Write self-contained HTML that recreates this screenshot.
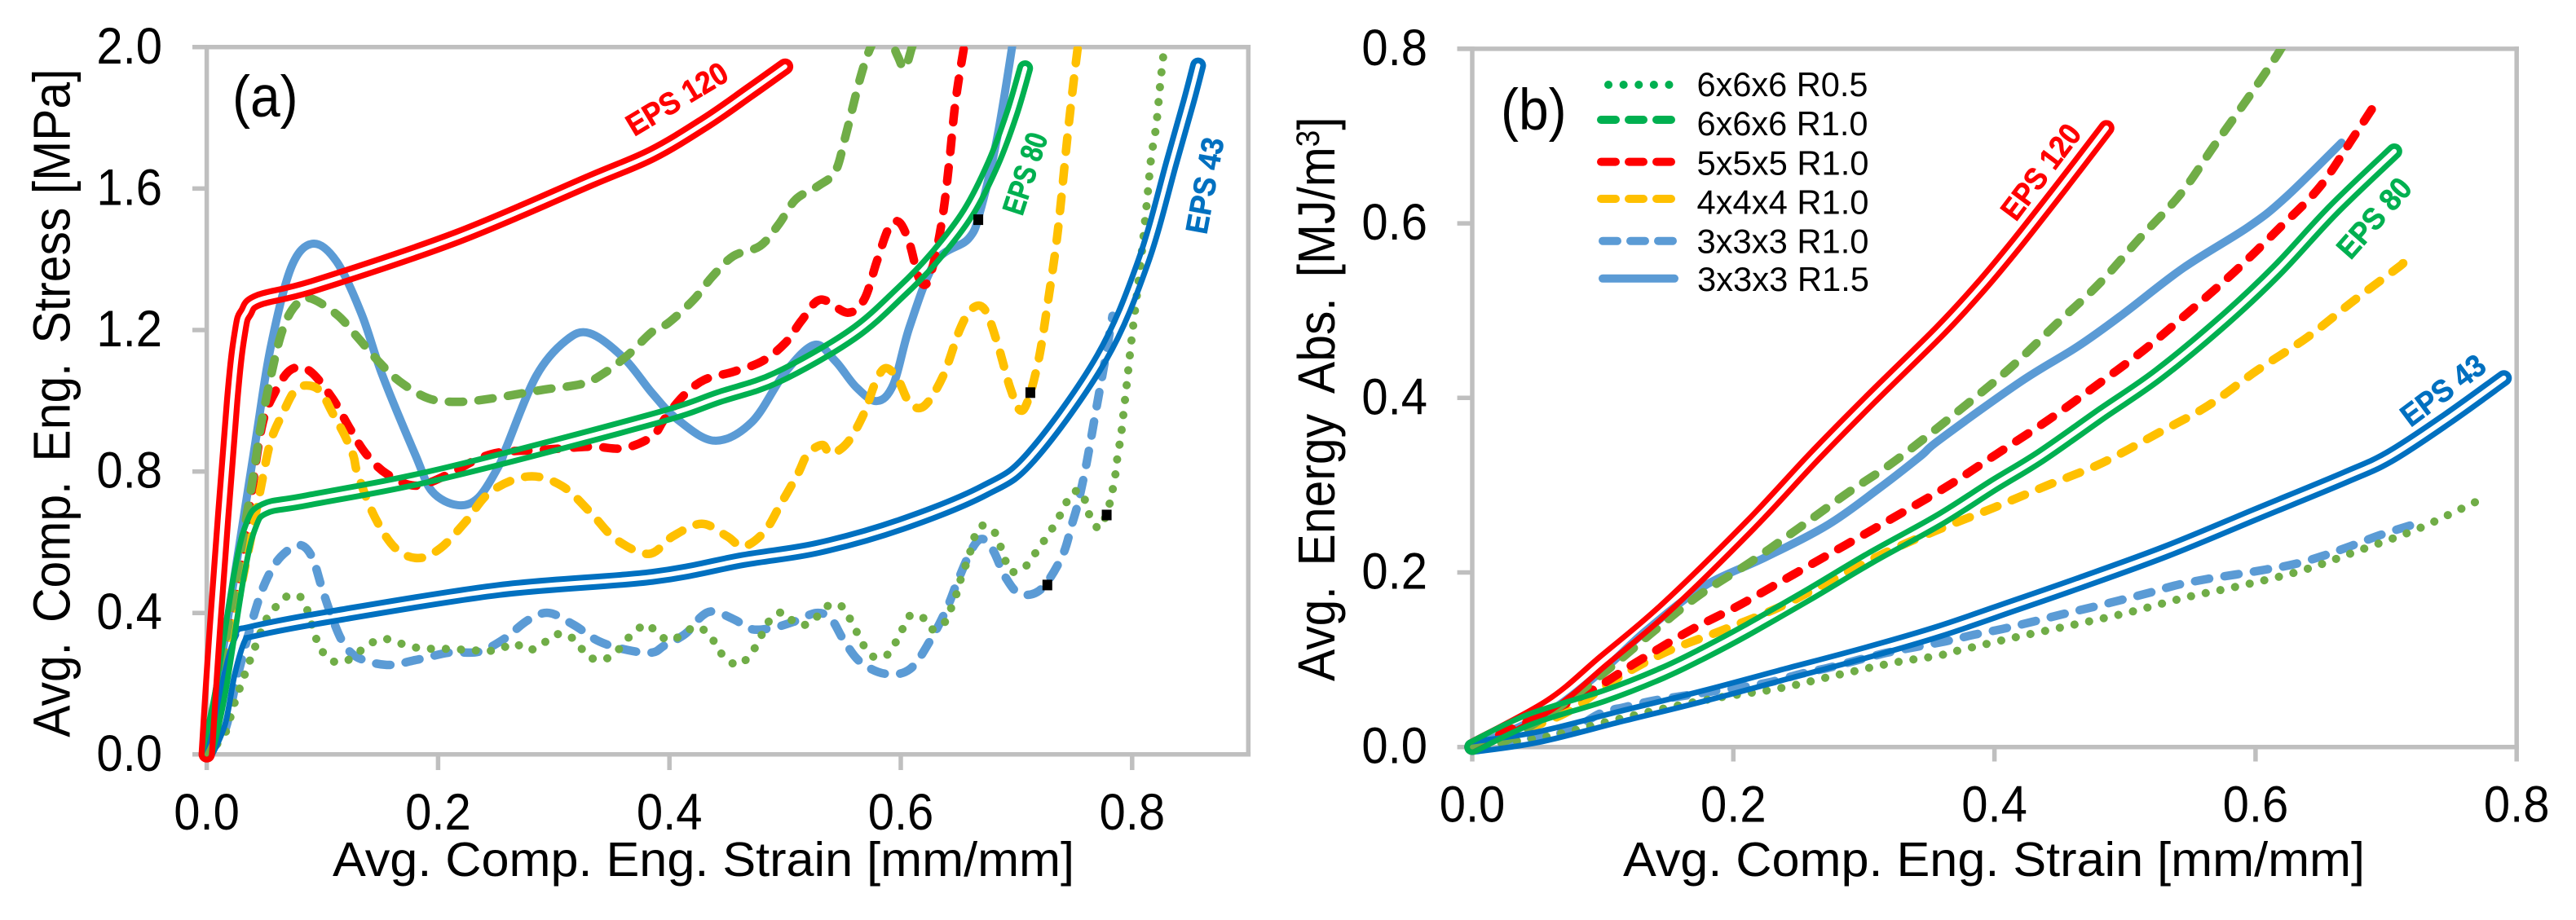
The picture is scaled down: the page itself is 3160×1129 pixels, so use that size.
<!DOCTYPE html>
<html lang="en">
<head>
<meta charset="utf-8">
<title>Compression stress and energy absorption charts</title>
<style>
html,body{margin:0;padding:0;background:#fff;width:3160px;height:1129px;overflow:hidden}
svg{display:block}
text{font-family:"Liberation Sans",Arial,sans-serif;fill:#000}
</style>
</head>
<body>
<svg id="fig" xmlns="http://www.w3.org/2000/svg" width="3160" height="1129" viewBox="0 0 3160 1129">
  <rect width="3160" height="1129" fill="#fff"/>
  <defs id="defs">
    <clipPath id="clipA"><rect x="0" y="57" width="1531" height="1072"/></clipPath>
    <clipPath id="clipB"><rect x="1700" y="60" width="1384" height="1069"/></clipPath>
  </defs>
  <g id="panelA">
    <g id="axesA"></g>
    <g id="seriesA" clip-path="url(#clipA)"></g>
    <text transform="translate(85.7,904.7) rotate(-90) scale(0.92,1)" font-size="64">Avg. <tspan dx="8.3">Comp. </tspan><tspan dx="8.3">Eng. </tspan><tspan dx="8.3">Stress [MPa]</tspan></text>
    <text x="408" y="1075" font-size="59" textLength="910" lengthAdjust="spacingAndGlyphs">Avg. Comp. Eng. Strain [mm/mm]</text>
    <text transform="translate(285,143) scale(1,1.08)" font-size="66">(a)</text>
    <text transform="translate(778,168) rotate(-31)" font-size="38" font-weight="bold" textLength="138" lengthAdjust="spacingAndGlyphs" stroke="#ff0000" stroke-width="0.7" style="fill:#ff0000">EPS 120</text>
    <text transform="translate(1254,266) rotate(-72)" font-size="38" font-weight="bold" textLength="103" lengthAdjust="spacingAndGlyphs" stroke="#00b050" stroke-width="0.7" style="fill:#00b050">EPS 80</text>
    <text transform="translate(1480,288.6) rotate(-79.6)" font-size="38" font-weight="bold" textLength="119" lengthAdjust="spacingAndGlyphs" stroke="#0070c0" stroke-width="0.7" style="fill:#0070c0">EPS 43</text>
  </g>
  <g id="panelB">
    <g id="axesB"></g>
    <g id="seriesB" clip-path="url(#clipB)"></g>
    <text transform="translate(1637,836) rotate(-90) scale(0.92,1)" font-size="64">Avg. <tspan dx="9.2">Energy </tspan><tspan dx="9.2">Abs. </tspan><tspan dx="9.2">[MJ/m</tspan><tspan font-size="40" dy="-19">3</tspan><tspan dy="19">]</tspan></text>
    <text x="1991" y="1075" font-size="59" textLength="910" lengthAdjust="spacingAndGlyphs">Avg. Comp. Eng. Strain [mm/mm]</text>
    <text transform="translate(1841,159) scale(1,1.08)" font-size="66">(b)</text>
    <text transform="translate(2473,273) rotate(-53)" font-size="38" font-weight="bold" textLength="136" lengthAdjust="spacingAndGlyphs" stroke="#ff0000" stroke-width="0.7" style="fill:#ff0000">EPS 120</text>
    <text transform="translate(2883.5,320) rotate(-48.6)" font-size="38" font-weight="bold" textLength="117" lengthAdjust="spacingAndGlyphs" stroke="#00b050" stroke-width="0.7" style="fill:#00b050">EPS 80</text>
    <text transform="translate(2957,525) rotate(-36.8)" font-size="38" font-weight="bold" textLength="119" lengthAdjust="spacingAndGlyphs" stroke="#0070c0" stroke-width="0.7" style="fill:#0070c0">EPS 43</text>
    <g>
      <g>
        <line x1="1973" y1="104" x2="2048" y2="104" stroke="#00b050" stroke-width="10" stroke-linecap="round" stroke-dasharray="0.1 18.5"/>
        <text x="2081.5" y="118" font-size="42" textLength="210" lengthAdjust="spacingAndGlyphs">6x6x6 R0.5</text>
      </g>
      <g>
        <line x1="1964" y1="147" x2="2050" y2="147" stroke="#00b050" stroke-width="10" stroke-linecap="round" stroke-dasharray="18 16"/>
        <text x="2081.5" y="166" font-size="42" textLength="210" lengthAdjust="spacingAndGlyphs">6x6x6 R1.0</text>
      </g>
      <g>
        <line x1="1964" y1="198.6" x2="2051" y2="198.6" stroke="#ff0000" stroke-width="10" stroke-linecap="round" stroke-dasharray="18 16"/>
        <text x="2081.5" y="214.6" font-size="42" textLength="211" lengthAdjust="spacingAndGlyphs">5x5x5 R1.0</text>
      </g>
      <g>
        <line x1="1964" y1="244" x2="2051" y2="244" stroke="#ffc000" stroke-width="10" stroke-linecap="round" stroke-dasharray="18 16"/>
        <text x="2081.5" y="262.5" font-size="42" textLength="211" lengthAdjust="spacingAndGlyphs">4x4x4 R1.0</text>
      </g>
      <g>
        <line x1="1966" y1="295.7" x2="2053" y2="295.7" stroke="#5b9bd5" stroke-width="10" stroke-linecap="round" stroke-dasharray="18 16"/>
        <text x="2081.5" y="310.7" font-size="42" textLength="211" lengthAdjust="spacingAndGlyphs">3x3x3 R1.0</text>
      </g>
      <g>
        <line x1="1966" y1="341.8" x2="2054" y2="341.8" stroke="#5b9bd5" stroke-width="10" stroke-linecap="round"/>
        <text x="2082" y="357" font-size="42" textLength="211" lengthAdjust="spacingAndGlyphs">3x3x3 R1.5</text>
      </g>
    </g>
  </g>
</svg>
<script>
// ---------- tick values and labels ----------
const strainTicksA = [0, 0.2, 0.4, 0.6, 0.8];
const strainTickLabelsA = ["0.0", "0.2", "0.4", "0.6", "0.8"];
const stressTicks = [0, 0.4, 0.8, 1.2, 1.6, 2.0];
const stressTickLabels = ["0.0", "0.4", "0.8", "1.2", "1.6", "2.0"];
const strainTicksB = [0, 0.2, 0.4, 0.6, 0.8];
const strainTickLabelsB = ["0.0", "0.2", "0.4", "0.6", "0.8"];
const energyTicks = [0, 0.2, 0.4, 0.6, 0.8];
const energyTickLabels = ["0.0", "0.2", "0.4", "0.6", "0.8"];

// ---------- panel (a): stress vs strain ----------
const aEps120X = [0, 0.008, 0.022, 0.029, 0.034, 0.045, 0.0945, 0.2167, 0.332, 0.385, 0.4317, 0.4678, 0.5];
const aEps120Y = [0, 0.4, 1.0, 1.2, 1.25, 1.285, 1.327, 1.463, 1.623, 1.697, 1.788, 1.87, 1.945];

const aEps80X = [0, 0.0117, 0.028, 0.038, 0.05, 0.0874, 0.2024, 0.385, 0.4426, 0.493, 0.5578, 0.6008, 0.6298, 0.6583, 0.68, 0.696, 0.7075];
const aEps80Y = [0, 0.175, 0.509, 0.645, 0.695, 0.719, 0.793, 0.948, 1.01, 1.066, 1.187, 1.31, 1.409, 1.532, 1.672, 1.812, 1.94];

const aEps43X = [0, 0.0117, 0.0198, 0.0292, 0.0383, 0.1088, 0.2527, 0.385, 0.464, 0.5287, 0.6008, 0.6726, 0.713, 0.7735, 0.8095, 0.8345, 0.8488, 0.857];
const aEps43Y = [0, 0.09, 0.228, 0.329, 0.347, 0.391, 0.465, 0.502, 0.55, 0.584, 0.651, 0.747, 0.843, 1.121, 1.393, 1.68, 1.845, 1.948];

const a3x3R15X = [0, 0.0405, 0.055, 0.0729, 0.0917, 0.1124, 0.134, 0.152, 0.1808, 0.195, 0.2167, 0.2348, 0.2527, 0.2598, 0.285, 0.3104, 0.331, 0.3605, 0.385, 0.4066, 0.439, 0.4713, 0.5, 0.5253, 0.5433, 0.5613, 0.5792, 0.5937, 0.6077, 0.63, 0.6585, 0.669, 0.6835, 0.6972];
const a3x3R15Y = [0, 0.85, 1.146, 1.376, 1.444, 1.393, 1.244, 1.071, 0.843, 0.743, 0.705, 0.726, 0.817, 0.875, 1.071, 1.17, 1.191, 1.121, 1.022, 0.948, 0.887, 0.94, 1.08, 1.158, 1.113, 1.039, 0.999, 1.047, 1.21, 1.393, 1.458, 1.54, 1.747, 2.02];

const a3x3R10X = [0, 0.0154, 0.0262, 0.0405, 0.0514, 0.064, 0.08, 0.0909, 0.0999, 0.1088, 0.118, 0.1305, 0.1557, 0.1808, 0.2096, 0.2348, 0.2563, 0.2779, 0.2959, 0.3175, 0.339, 0.364, 0.385, 0.3958, 0.4138, 0.428, 0.439, 0.4569, 0.4713, 0.4893, 0.5073, 0.527, 0.5397, 0.5505, 0.5648, 0.5864, 0.6078, 0.6258, 0.6402, 0.6494, 0.662, 0.6709, 0.68, 0.6907, 0.7032, 0.7212, 0.7393, 0.748, 0.7537, 0.7608, 0.7692, 0.7769, 0.783];
const a3x3R10Y = [0, 0.065, 0.216, 0.391, 0.492, 0.559, 0.592, 0.559, 0.467, 0.383, 0.316, 0.274, 0.253, 0.267, 0.288, 0.29, 0.325, 0.38, 0.4, 0.366, 0.32, 0.295, 0.288, 0.308, 0.341, 0.391, 0.404, 0.38, 0.354, 0.358, 0.375, 0.4, 0.383, 0.324, 0.262, 0.228, 0.241, 0.324, 0.416, 0.492, 0.584, 0.609, 0.576, 0.5, 0.454, 0.467, 0.559, 0.651, 0.717, 0.827, 0.981, 1.121, 1.24];

const a4x4R10X = [0, 0.0369, 0.0461, 0.055, 0.0658, 0.0765, 0.0874, 0.0982, 0.1088, 0.1197, 0.1269, 0.1305, 0.1447, 0.1628, 0.1827, 0.2024, 0.224, 0.2455, 0.2779, 0.3067, 0.3318, 0.3535, 0.3822, 0.403, 0.428, 0.4497, 0.464, 0.4822, 0.4964, 0.511, 0.5196, 0.5323, 0.5394, 0.554, 0.5683, 0.5775, 0.5864, 0.597, 0.6078, 0.6205, 0.6367, 0.6512, 0.6619, 0.6726, 0.6835, 0.6943, 0.7032, 0.7105, 0.7195, 0.7267, 0.7356, 0.7446, 0.7525, 0.755];
const a4x4R10Y = [0, 0.591, 0.743, 0.882, 0.965, 1.03, 1.043, 1.027, 0.965, 0.899, 0.843, 0.793, 0.675, 0.584, 0.555, 0.584, 0.659, 0.743, 0.786, 0.76, 0.684, 0.609, 0.567, 0.617, 0.652, 0.617, 0.588, 0.63, 0.709, 0.793, 0.85, 0.875, 0.85, 0.882, 0.965, 1.047, 1.092, 1.064, 0.993, 0.986, 1.071, 1.203, 1.261, 1.258, 1.163, 1.039, 0.973, 1.006, 1.122, 1.269, 1.475, 1.763, 1.986, 2.03];

const a5x5R10X = [0, 0.0262, 0.0369, 0.0475, 0.0586, 0.0729, 0.0891, 0.1088, 0.1233, 0.1377, 0.1557, 0.1808, 0.2096, 0.2311, 0.2527, 0.2886, 0.332, 0.3605, 0.385, 0.3957, 0.4118, 0.43, 0.4552, 0.4803, 0.5, 0.5145, 0.5307, 0.554, 0.5683, 0.5792, 0.59, 0.599, 0.6078, 0.6152, 0.6223, 0.6298, 0.6367, 0.6421, 0.6473, 0.6547, 0.657];
const a5x5R10Y = [0, 0.458, 0.693, 0.924, 1.022, 1.088, 1.084, 1.006, 0.924, 0.85, 0.793, 0.76, 0.793, 0.83, 0.854, 0.861, 0.87, 0.866, 0.899, 0.948, 1.013, 1.059, 1.082, 1.112, 1.163, 1.228, 1.286, 1.249, 1.286, 1.393, 1.491, 1.504, 1.442, 1.351, 1.331, 1.409, 1.533, 1.68, 1.845, 2.0, 2.03];

const a6x6R10X = [0, 0.0388, 0.046, 0.0567, 0.0658, 0.0765, 0.089, 0.1124, 0.1305, 0.1483, 0.1666, 0.1916, 0.2167, 0.2455, 0.2886, 0.3247, 0.3425, 0.364, 0.385, 0.399, 0.421, 0.437, 0.4552, 0.4785, 0.4947, 0.5091, 0.5288, 0.5433, 0.5521, 0.5649, 0.574, 0.585, 0.597, 0.6033, 0.6097, 0.615];
const a6x6R10Y = [0, 0.76, 0.915, 1.088, 1.203, 1.269, 1.29, 1.244, 1.179, 1.112, 1.055, 1.007, 0.997, 1.006, 1.03, 1.048, 1.076, 1.129, 1.195, 1.22, 1.286, 1.351, 1.409, 1.438, 1.5, 1.569, 1.608, 1.648, 1.746, 1.912, 2.0, 2.06, 1.977, 1.94, 2.0, 2.05];

const a6x6R05X = [0, 0.0154, 0.0235, 0.0323, 0.0412, 0.0512, 0.0584, 0.0676, 0.079, 0.0861, 0.0938, 0.0992, 0.1078, 0.1196, 0.1305, 0.1411, 0.1531, 0.1653, 0.1779, 0.1904, 0.2033, 0.2287, 0.2412, 0.2538, 0.2657, 0.2772, 0.2887, 0.2995, 0.311, 0.3211, 0.3288, 0.3411, 0.3528, 0.3606, 0.3696, 0.3804, 0.39, 0.4005, 0.412, 0.4228, 0.434, 0.441, 0.4484, 0.4597, 0.4696, 0.4764, 0.4822, 0.4893, 0.4998, 0.5089, 0.5203, 0.5299, 0.5397, 0.5505, 0.5569, 0.5627, 0.5688, 0.5778, 0.5893, 0.5961, 0.6019, 0.6086, 0.619, 0.6268, 0.6371, 0.6428, 0.6475, 0.6511, 0.6554, 0.6597, 0.663, 0.669, 0.6795, 0.6853, 0.6895, 0.6946, 0.7057, 0.7136, 0.7212, 0.7284, 0.7354, 0.7414, 0.7475, 0.7561, 0.7604, 0.7647, 0.7727, 0.7817, 0.7838, 0.7863, 0.7875, 0.79, 0.7914, 0.7943, 0.7971, 0.8, 0.8076, 0.8129, 0.8165, 0.8207, 0.8245, 0.8273];
const a6x6R05Y = [0, 0.057, 0.14, 0.221, 0.299, 0.38, 0.412, 0.444, 0.45, 0.415, 0.335, 0.295, 0.265, 0.263, 0.287, 0.313, 0.327, 0.316, 0.304, 0.299, 0.299, 0.295, 0.292, 0.298, 0.314, 0.295, 0.308, 0.336, 0.339, 0.313, 0.279, 0.267, 0.285, 0.316, 0.345, 0.368, 0.341, 0.322, 0.341, 0.361, 0.341, 0.305, 0.272, 0.253, 0.281, 0.316, 0.354, 0.39, 0.401, 0.37, 0.369, 0.397, 0.425, 0.415, 0.378, 0.341, 0.304, 0.274, 0.284, 0.32, 0.357, 0.394, 0.387, 0.354, 0.37, 0.408, 0.447, 0.488, 0.528, 0.569, 0.609, 0.646, 0.635, 0.596, 0.558, 0.518, 0.525, 0.557, 0.592, 0.626, 0.663, 0.7, 0.737, 0.744, 0.705, 0.665, 0.642, 0.722, 0.765, 0.806, 0.85, 0.891, 0.932, 1.016, 1.1, 1.187, 1.397, 1.566, 1.689, 1.776, 1.903, 1.985];

// failure-point markers in panel (a), one per truncated series
const markerStrain = [0.667, 0.712, 0.7267, 0.778];
const markerStress = [1.512, 1.023, 0.479, 0.677];

// ---------- panel (b): energy absorbed vs strain ----------
const bEps120X = [0, 0.0596, 0.101, 0.1486, 0.2131, 0.262, 0.3054, 0.3584, 0.3895, 0.4174, 0.4515, 0.4858];
const bEps120Y = [0, 0.0485, 0.0996, 0.16, 0.2546, 0.333, 0.399, 0.477, 0.5275, 0.5776, 0.6425, 0.7092];

const bEps80X = [0, 0.0438, 0.101, 0.1455, 0.1773, 0.2091, 0.2568, 0.3047, 0.3584, 0.3988, 0.4354, 0.4827, 0.5262, 0.5758, 0.6163, 0.6598, 0.7063];
const bEps80Y = [0, 0.0315, 0.0585, 0.0847, 0.1077, 0.133, 0.1738, 0.2164, 0.261, 0.2995, 0.333, 0.3825, 0.4275, 0.489, 0.546, 0.616, 0.6825];

const bEps43X = [0, 0.05, 0.1136, 0.1773, 0.241, 0.3047, 0.3584, 0.4112, 0.4639, 0.5323, 0.6007, 0.6691, 0.703, 0.7468, 0.7902];
const bEps43Y = [0, 0.0112, 0.035, 0.0585, 0.084, 0.1094, 0.133, 0.16, 0.1874, 0.2247, 0.267, 0.3093, 0.333, 0.376, 0.4227];

const b3x3R15X = [0, 0.0564, 0.101, 0.1329, 0.1773, 0.2252, 0.2729, 0.3113, 0.3431, 0.3584, 0.4205, 0.4639, 0.4983, 0.5448, 0.5944, 0.6225, 0.6659];
const b3x3R15Y = [0, 0.0383, 0.0893, 0.133, 0.184, 0.2178, 0.255, 0.296, 0.333, 0.3526, 0.419, 0.459, 0.4958, 0.549, 0.5958, 0.629, 0.6925];

const b3x3R10X = [0, 0.05, 0.0758, 0.0978, 0.1168, 0.1393, 0.1615, 0.1836, 0.2077, 0.23, 0.2523, 0.2729, 0.2954, 0.3176, 0.3398, 0.3631, 0.3847, 0.4071, 0.4292, 0.4515, 0.4733, 0.4958, 0.5183, 0.5401, 0.5626, 0.5851, 0.6076, 0.6294, 0.6519, 0.6731, 0.6948, 0.7162, 0.7234];
const b3x3R10Y = [0, 0.0112, 0.0197, 0.0383, 0.0457, 0.0532, 0.0585, 0.0637, 0.0688, 0.0749, 0.084, 0.0908, 0.0996, 0.108, 0.1146, 0.1213, 0.1288, 0.1356, 0.1435, 0.1519, 0.1596, 0.168, 0.1766, 0.1857, 0.1924, 0.1977, 0.2033, 0.2094, 0.2191, 0.2303, 0.2425, 0.2528, 0.2558];

const b4x4R10X = [0, 0.0675, 0.1074, 0.1472, 0.1902, 0.2349, 0.2729, 0.3145, 0.356, 0.3988, 0.4409, 0.4827, 0.5247, 0.5633, 0.6007, 0.6395, 0.6747, 0.7094, 0.7124];
const b4x4R10Y = [0, 0.036, 0.0755, 0.108, 0.133, 0.16, 0.1893, 0.2213, 0.2484, 0.2738, 0.3, 0.3256, 0.3592, 0.3908, 0.431, 0.4693, 0.5108, 0.5497, 0.554];

const b5x5R10X = [0, 0.0818, 0.1265, 0.1661, 0.2061, 0.246, 0.2858, 0.3256, 0.3647, 0.4018, 0.4407, 0.478, 0.5152, 0.5495, 0.5836, 0.6169, 0.6488, 0.6759, 0.6912];
const b5x5R10Y = [0, 0.057, 0.0978, 0.133, 0.1637, 0.1977, 0.2314, 0.2653, 0.2995, 0.3358, 0.3741, 0.4142, 0.4557, 0.4992, 0.5441, 0.5926, 0.6411, 0.7009, 0.7358];

const b6x6R10X = [0, 0.0243, 0.066, 0.1044, 0.1393, 0.1738, 0.2124, 0.2493, 0.2874, 0.3256, 0.3786, 0.4137, 0.447, 0.4802, 0.5106, 0.5423, 0.5681, 0.5945, 0.6178, 0.626];
const b6x6R10Y = [0, 0.0062, 0.0455, 0.0893, 0.133, 0.1739, 0.2111, 0.25, 0.291, 0.3297, 0.3924, 0.4364, 0.4841, 0.5308, 0.5818, 0.6331, 0.6885, 0.7442, 0.7959, 0.82];

const b6x6R05X = [0, 0.0564, 0.101, 0.1451, 0.1902, 0.2349, 0.2794, 0.3237, 0.356, 0.3693, 0.4134, 0.4583, 0.5025, 0.547, 0.5913, 0.6358, 0.6784, 0.7218, 0.7529, 0.7737];
const b6x6R05Y = [0, 0.0119, 0.0281, 0.0436, 0.057, 0.0671, 0.0824, 0.0968, 0.1043, 0.1094, 0.1248, 0.1393, 0.1541, 0.1715, 0.1857, 0.2023, 0.2247, 0.2484, 0.2697, 0.2845];

// ---------- axis functions ----------
function axAx(v) { return 253.6 + v * 1419; }
function axAy(v) { return 925.8 - v * 434; }
function axBx(v) { return 1806 + v * 1601.5; }
function axBy(v) { return 916.7 - v * 1071; }

const NS = 'http://www.w3.org/2000/svg';
function mk(tag, parent) {
  const el = document.createElementNS(NS, tag);
  if (parent) parent.appendChild(el);
  return el;
}
function smoothPath(xs, ys, fx, fy) {
  const p = xs.map((x, i) => [fx(x), fy(ys[i])]);
  let d = 'M' + p[0][0].toFixed(1) + ' ' + p[0][1].toFixed(1);
  for (let i = 0; i < p.length - 1; i++) {
    const a = p[Math.max(i - 1, 0)], b = p[i], c = p[i + 1], e = p[Math.min(i + 2, p.length - 1)];
    const c1x = b[0] + (c[0] - a[0]) / 6, c1y = b[1] + (c[1] - a[1]) / 6;
    const c2x = c[0] - (e[0] - b[0]) / 6, c2y = c[1] - (e[1] - b[1]) / 6;
    d += 'C' + [c1x, c1y, c2x, c2y, c[0], c[1]].map(n => n.toFixed(1)).join(' ');
  }
  return d;
}
function rule(parent, x1, y1, x2, y2, name) {
  const l = mk('line', parent);
  l.setAttribute('x1', x1); l.setAttribute('y1', y1);
  l.setAttribute('x2', x2); l.setAttribute('y2', y2);
  l.setAttribute('stroke', '#bfbfbf');
  l.setAttribute('stroke-width', '5.5');
  
  
}
function tickText(parent, x, y, anchor, str, name) {
  const t = mk('text', parent);
  t.setAttribute('transform', 'translate(' + x + ',' + y + ') scale(1,1.08)');
  t.setAttribute('font-size', '58');
  t.setAttribute('text-anchor', anchor);
  t.textContent = str;
  
  
}
function drawAxes(group, fx, fy, xt, xl, yt, yl, xMaxPx, yTopPx, yLeft, xBottom, labelRight, labelBase, prefix) {
  const x0 = fx(0), y0 = fy(0);
  rule(group, x0, yTopPx - 2.8, x0, y0, prefix + '-y-axis-line');
  rule(group, x0 - 2.8, y0, xMaxPx + 2.8, y0, prefix + '-x-axis-line');
  rule(group, yLeft, yTopPx, xMaxPx + 2.8, yTopPx, prefix + '-top-border');
  rule(group, xMaxPx, yTopPx - 2.8, xMaxPx, y0, prefix + '-right-border');
  xt.forEach((v, i) => {
    rule(group, fx(v), y0, fx(v), xBottom, prefix + '-x-tick-' + xl[i]);
    tickText(group, fx(v), labelBase, 'middle', xl[i], prefix + '-x-tick-label-' + xl[i]);
  });
  yt.forEach((v, i) => {
    rule(group, yLeft, fy(v), x0, fy(v), prefix + '-y-tick-' + yl[i]);
    tickText(group, labelRight, fy(v) + 20, 'end', yl[i], prefix + '-y-tick-label-' + yl[i]);
  });
}
let maskId = 0;
function drawSingle(group, xs, ys, fx, fy, color, dash, width, name) {
  const p = mk('path', group);
  p.setAttribute('d', smoothPath(xs, ys, fx, fy));
  p.setAttribute('fill', 'none');
  p.setAttribute('stroke', color);
  p.setAttribute('stroke-width', width);
  p.setAttribute('stroke-linecap', 'round');
  p.setAttribute('stroke-linejoin', 'round');
  if (dash) p.setAttribute('stroke-dasharray', dash);
  
  
}
function drawDouble(group, xs, ys, fx, fy, color, outer, inner, name) {
  const d = smoothPath(xs, ys, fx, fy);
  const id = 'dbl' + (++maskId);
  const m = mk('mask', document.getElementById('defs'));
  m.setAttribute('id', id);
  m.setAttribute('maskUnits', 'userSpaceOnUse');
  m.setAttribute('x', '0'); m.setAttribute('y', '0');
  m.setAttribute('width', '3160'); m.setAttribute('height', '1129');
  const r = mk('rect', m);
  r.setAttribute('width', '3160'); r.setAttribute('height', '1129'); r.setAttribute('fill', '#fff');
  const h = mk('path', m);
  h.setAttribute('d', d);
  h.setAttribute('fill', 'none');
  h.setAttribute('stroke', '#000');
  h.setAttribute('stroke-width', inner);
  h.setAttribute('stroke-linecap', 'round');
  h.setAttribute('stroke-linejoin', 'round');
  const p = mk('path', group);
  p.setAttribute('d', d);
  p.setAttribute('fill', 'none');
  p.setAttribute('stroke', color);
  p.setAttribute('stroke-width', outer);
  p.setAttribute('stroke-linecap', 'round');
  p.setAttribute('stroke-linejoin', 'round');
  p.setAttribute('mask', 'url(#' + id + ')');
  
  
}

const DASH = '17.5 19';
const DOT = '0.1 18.3';
const OLIVE = '#70ad47', LBLUE = '#5b9bd5', YEL = '#ffc000', RED = '#ff0000', GRN = '#00b050', BLU = '#0070c0';

// ---------- panel (a) ----------
const axesA = document.getElementById('axesA');
drawAxes(axesA, axAx, axAy, strainTicksA, strainTickLabelsA, stressTicks, stressTickLabels, 1531.3, axAy(2), 236, 945, 199, 1018, 'stress');
const gA = document.getElementById('seriesA');
drawSingle(gA, a3x3R15X, a3x3R15Y, axAx, axAy, LBLUE, null, 10, 'series-3x3x3-r1.5-stress');
drawSingle(gA, a3x3R10X, a3x3R10Y, axAx, axAy, LBLUE, DASH, 10.5, 'series-3x3x3-r1.0-stress');
drawSingle(gA, a5x5R10X, a5x5R10Y, axAx, axAy, RED, DASH, 10.5, 'series-5x5x5-r1.0-stress');
drawSingle(gA, a4x4R10X, a4x4R10Y, axAx, axAy, YEL, DASH, 10.5, 'series-4x4x4-r1.0-stress');
drawSingle(gA, a6x6R10X, a6x6R10Y, axAx, axAy, OLIVE, DASH, 10.5, 'series-6x6x6-r1.0-stress');
drawSingle(gA, a6x6R05X, a6x6R05Y, axAx, axAy, OLIVE, DOT, 10, 'series-6x6x6-r0.5-stress');
drawDouble(gA, aEps43X, aEps43Y, axAx, axAy, BLU, 19.5, 5.5, 'series-eps-43-stress');
drawDouble(gA, aEps80X, aEps80Y, axAx, axAy, GRN, 19.5, 5.5, 'series-eps-80-stress');
drawDouble(gA, aEps120X, aEps120Y, axAx, axAy, RED, 20, 5.5, 'series-eps-120-stress');
markerStrain.forEach((v, i) => {
  const r = mk('rect', gA);
  r.setAttribute('x', axAx(v) - 6);
  r.setAttribute('y', axAy(markerStress[i]) - 6.5);
  r.setAttribute('width', '12');
  r.setAttribute('height', '13');
  r.setAttribute('fill', '#000');
  
  
});

// ---------- panel (b) ----------
const axesB = document.getElementById('axesB');
drawAxes(axesB, axBx, axBy, strainTicksB, strainTickLabelsB, energyTicks, energyTickLabels, axBx(0.8), axBy(0.8), 1787.6, 934.5, 1751, 1008.5, 'energy');
const gB = document.getElementById('seriesB');
drawSingle(gB, b3x3R15X, b3x3R15Y, axBx, axBy, LBLUE, null, 10, 'series-3x3x3-r1.5-energy');
drawSingle(gB, b3x3R10X, b3x3R10Y, axBx, axBy, LBLUE, DASH, 10.5, 'series-3x3x3-r1.0-energy');
drawSingle(gB, b4x4R10X, b4x4R10Y, axBx, axBy, YEL, DASH, 10.5, 'series-4x4x4-r1.0-energy');
drawSingle(gB, b5x5R10X, b5x5R10Y, axBx, axBy, RED, DASH, 10.5, 'series-5x5x5-r1.0-energy');
drawSingle(gB, b6x6R10X, b6x6R10Y, axBx, axBy, OLIVE, DASH, 10.5, 'series-6x6x6-r1.0-energy');
drawSingle(gB, b6x6R05X, b6x6R05Y, axBx, axBy, OLIVE, DOT, 10, 'series-6x6x6-r0.5-energy');
drawDouble(gB, bEps120X, bEps120Y, axBx, axBy, RED, 19.5, 6, 'series-eps-120-energy');
drawDouble(gB, bEps43X, bEps43Y, axBx, axBy, BLU, 19.5, 6, 'series-eps-43-energy');
drawDouble(gB, bEps80X, bEps80Y, axBx, axBy, GRN, 19.5, 6, 'series-eps-80-energy');
</script>
</body>
</html>
